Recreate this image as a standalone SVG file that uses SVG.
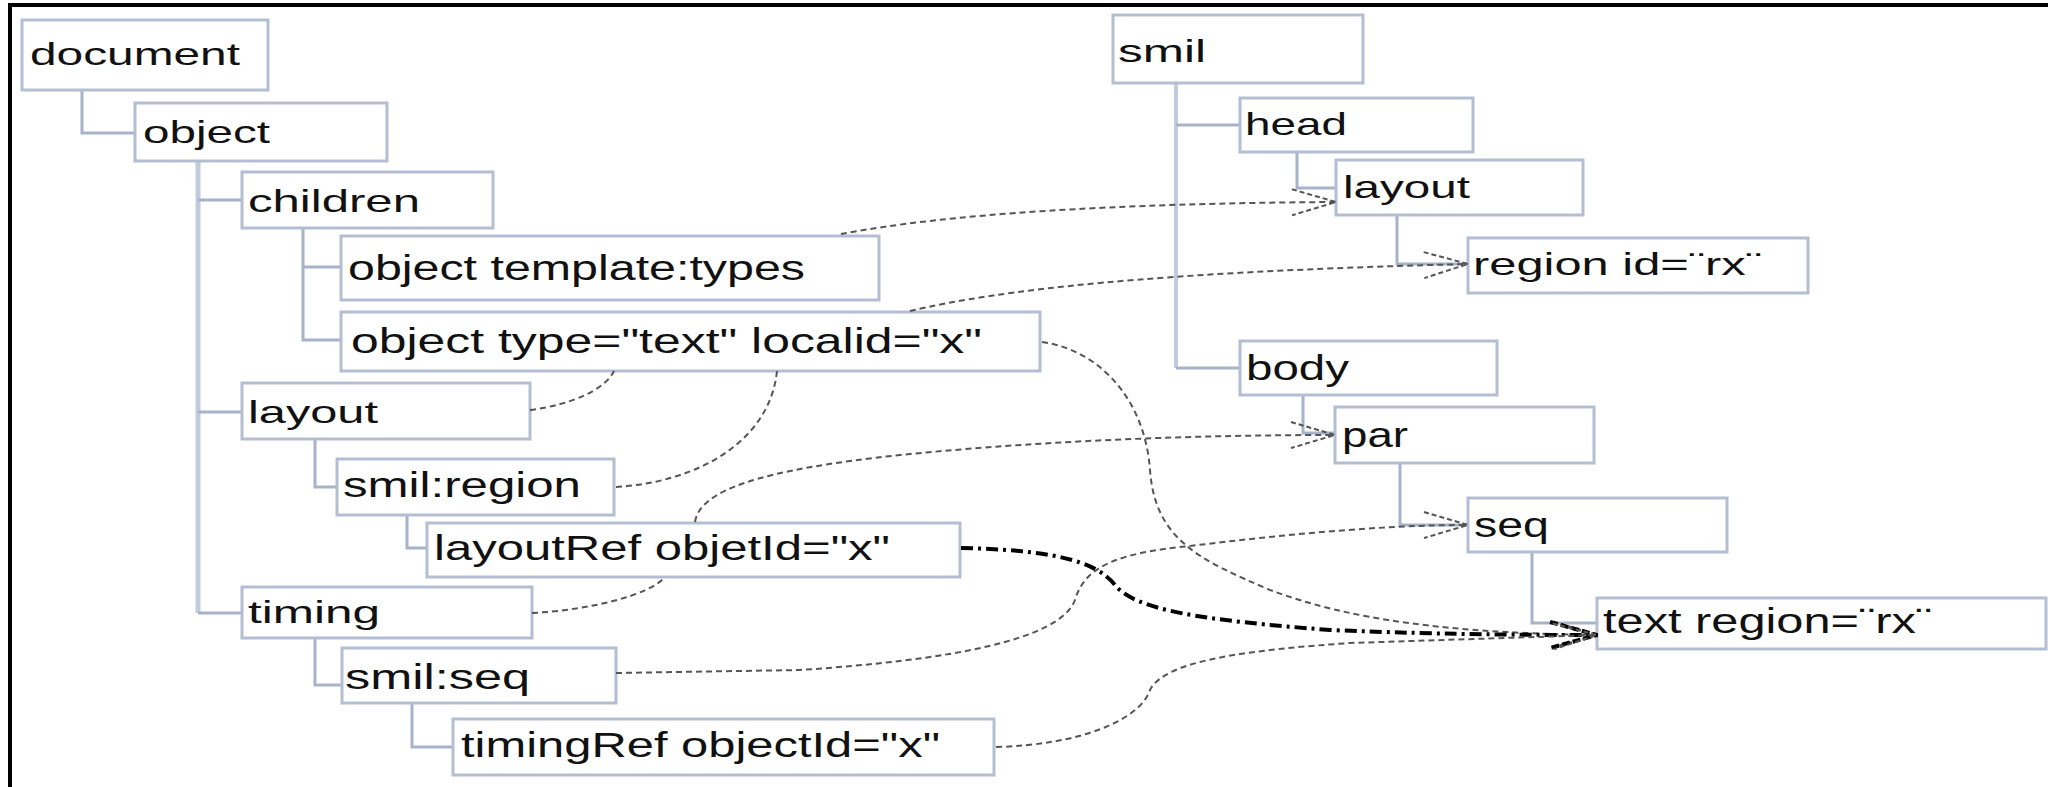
<svg xmlns="http://www.w3.org/2000/svg" width="2048" height="787" viewBox="0 0 2048 787">
<defs>
<style>
.box{fill:#fff;stroke:#b3bed2;stroke-width:3}
.t{font-family:"Liberation Sans",Arial,sans-serif;fill:#111;font-size:32px}
.tb{font-size:35px}
.tree{fill:none;stroke:#a7b3c9;stroke-width:3}
.trunk{fill:none;stroke:#c2cbdd;stroke-width:5}
.dash{fill:none;stroke:#555;stroke-width:2;stroke-dasharray:6 4}
.dd{fill:none;stroke:#000;stroke-width:4;stroke-dasharray:12 5 3 5}
</style>
<marker id="open" markerUnits="userSpaceOnUse" viewBox="0 0 46 30" refX="45" refY="15" markerWidth="46" markerHeight="30" orient="auto">
<path d="M1,2 L45,15 L1,28" fill="none" stroke="#555" stroke-width="2" stroke-dasharray="5 3"/>
</marker>
<marker id="bold" markerUnits="userSpaceOnUse" viewBox="0 0 50 32" refX="49" refY="16" markerWidth="50" markerHeight="32" orient="auto">
<path d="M2,3 L49,16 L2,29" fill="none" stroke="#000" stroke-width="4" stroke-dasharray="8 3"/>
</marker>
</defs>
<rect width="2048" height="787" fill="#fff"/>
<g id="frame" stroke="#000" stroke-width="4">
<line x1="8" y1="5" x2="2048" y2="5"/>
<line x1="10" y1="3" x2="10" y2="787"/>
</g>
<g id="tree-connectors">
<path class="tree" d="M82,90 V133 H135"/>
<path class="trunk" d="M198,161 V613"/>
<path class="tree" d="M198,200 H242 M198,412 H242 M198,613 H242"/>
<path class="tree" d="M303,228 V340 H341 M303,267 H341"/>
<path class="tree" d="M315,439 V487 H337"/>
<path class="tree" d="M407,515 V548 H427"/>
<path class="tree" d="M315,638 V685 H342"/>
<path class="tree" d="M412,703 V747 H453"/>
<path class="trunk" d="M1176,83 V368" style="stroke-width:4"/>
<path class="tree" d="M1176,125 H1240 M1176,368 H1240"/>
<path class="tree" d="M1297,152 V188 H1336"/>
<path class="tree" d="M1397,215 V264 H1468"/>
<path class="tree" d="M1303,395 V433 H1335"/>
<path class="tree" d="M1400,463 V525 H1468"/>
<path class="tree" d="M1532,552 V623 H1597"/>
</g>
<g id="n-document"><rect class="box" x="22" y="20" width="246" height="70"/><text class="t" x="30" y="65" textLength="210" lengthAdjust="spacingAndGlyphs">document</text></g>
<g id="n-object"><rect class="box" x="135" y="103" width="252" height="58"/><text class="t" x="143" y="143" textLength="127" lengthAdjust="spacingAndGlyphs">object</text></g>
<g id="n-children"><rect class="box" x="242" y="172" width="251" height="56"/><text class="t" x="248" y="212" textLength="172" lengthAdjust="spacingAndGlyphs">children</text></g>
<g id="n-template"><rect class="box" x="341" y="236" width="538" height="64"/><text class="t tb" x="348" y="280" textLength="457" lengthAdjust="spacingAndGlyphs">object template:types</text></g>
<g id="n-objtext"><rect class="box" x="341" y="312" width="699" height="59"/><text class="t tb" x="351" y="353" textLength="631" lengthAdjust="spacingAndGlyphs">object type="text" localid="x"</text></g>
<g id="n-layout-l"><rect class="box" x="242" y="383" width="288" height="56"/><text class="t" x="248" y="423" textLength="130" lengthAdjust="spacingAndGlyphs">layout</text></g>
<g id="n-smilregion"><rect class="box" x="337" y="459" width="277" height="56"/><text class="t tb" x="343" y="497" textLength="238" lengthAdjust="spacingAndGlyphs">smil:region</text></g>
<g id="n-layoutref"><rect class="box" x="427" y="523" width="533" height="54"/><text class="t tb" x="434" y="560" textLength="456" lengthAdjust="spacingAndGlyphs">layoutRef objetId="x"</text></g>
<g id="n-timing"><rect class="box" x="242" y="587" width="290" height="51"/><text class="t" x="248" y="623" textLength="132" lengthAdjust="spacingAndGlyphs">timing</text></g>
<g id="n-smilseq"><rect class="box" x="342" y="648" width="274" height="55"/><text class="t tb" x="345" y="689" textLength="185" lengthAdjust="spacingAndGlyphs">smil:seq</text></g>
<g id="n-timingref"><rect class="box" x="453" y="719" width="541" height="56"/><text class="t tb" x="461" y="757" textLength="479" lengthAdjust="spacingAndGlyphs">timingRef objectId="x"</text></g>
<g id="n-smil"><rect class="box" x="1113" y="15" width="250" height="68"/><text class="t" x="1118" y="62" textLength="88" lengthAdjust="spacingAndGlyphs">smil</text></g>
<g id="n-head"><rect class="box" x="1240" y="98" width="233" height="54"/><text class="t" x="1245" y="135" textLength="102" lengthAdjust="spacingAndGlyphs">head</text></g>
<g id="n-layout-r"><rect class="box" x="1336" y="160" width="247" height="55"/><text class="t" x="1343" y="198" textLength="127" lengthAdjust="spacingAndGlyphs">layout</text></g>
<g id="n-region"><rect class="box" x="1468" y="238" width="340" height="55"/><text class="t" x="1473" y="275" textLength="289" lengthAdjust="spacingAndGlyphs">region id=¨rx¨</text></g>
<g id="n-body"><rect class="box" x="1240" y="341" width="257" height="54"/><text class="t tb" x="1246" y="380" textLength="103" lengthAdjust="spacingAndGlyphs">body</text></g>
<g id="n-par"><rect class="box" x="1335" y="407" width="259" height="56"/><text class="t tb" x="1342" y="447" textLength="66" lengthAdjust="spacingAndGlyphs">par</text></g>
<g id="n-seq"><rect class="box" x="1468" y="498" width="259" height="54"/><text class="t tb" x="1474" y="537" textLength="75" lengthAdjust="spacingAndGlyphs">seq</text></g>
<g id="n-textregion"><rect class="box" x="1597" y="598" width="449" height="51"/><text class="t tb" x="1603" y="633" textLength="329" lengthAdjust="spacingAndGlyphs">text region=¨rx¨</text></g>
<g id="links">
<path class="dash" d="M841,234 Q1000,204 1336,202" marker-end="url(#open)"/>
<path class="dash" d="M910,311 C1000,290 1150,272 1468,264" marker-end="url(#open)"/>
<path class="dash" d="M1042,342 C1100,350 1145,400 1150,470 C1155,540 1200,560 1270,590 C1350,620 1450,633 1597,635" marker-end="url(#open)"/>
<path class="dash" d="M530,410 C570,405 605,390 614,371"/>
<path class="dash" d="M616,487 C700,482 770,440 777,371"/>
<path class="dash" d="M695,522 C700,490 760,470 900,455 C1050,440 1200,435 1335,435" marker-end="url(#open)"/>
<path class="dd" d="M961,548 C1050,550 1095,560 1115,585 C1135,610 1200,620 1330,630 C1450,635 1550,635 1597,635" marker-end="url(#bold)"/>
<path class="dash" d="M532,613 C590,610 650,595 665,577"/>
<path class="dash" d="M616,673 L800,670 C950,660 1060,640 1075,600 C1085,565 1120,553 1190,546 C1280,535 1380,525 1468,525" marker-end="url(#open)"/>
<path class="dash" d="M996,747 C1080,745 1140,720 1150,690 C1165,660 1250,650 1350,643 L1597,635" marker-end="url(#open)"/>
</g>
</svg>
